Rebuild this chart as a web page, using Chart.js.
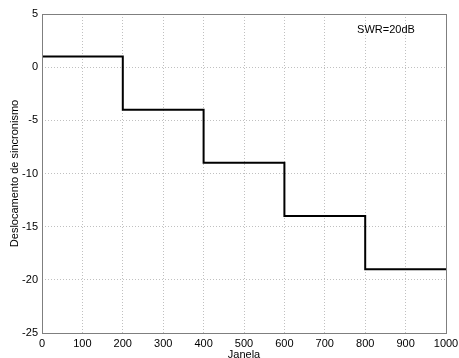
<!DOCTYPE html>
<html>
<head>
<meta charset="utf-8">
<script src="https://cdn.jsdelivr.net/npm/chart.js@4"></script>
<style>
  html, body { margin: 0; padding: 0; background: #fff; }
  #wrap { width: 459px; height: 358px; }
</style>
</head>
<body>
<div id="wrap"><canvas id="sync"></canvas></div>
<script>
const windows = [0, 200, 400, 600, 800, 1000]
const offsets = [1, -4, -9, -14, -19, -19]
const xTicks = [0, 100, 200, 300, 400, 500, 600, 700, 800, 900, 1000]
const yTicks = [5, 0, -5, -10, -15, -20, -25]
const noteText = "SWR=20dB"
const notePos = [780, 3.5]

const font = { family: "'Liberation Sans', Arial, sans-serif", size: 11 }

// box around the plot + the SWR note
const boxPlugin = {
  id: "box",
  afterDraw(chart) {
    const ctx = chart.ctx
    const a = chart.chartArea
    ctx.save()
    ctx.strokeStyle = "#7f7f7f"
    ctx.lineWidth = 1
    ctx.strokeRect(Math.round(a.left) + 0.5, Math.round(a.top) + 0.5,
      Math.round(a.right - a.left), Math.round(a.bottom - a.top))
    ctx.fillStyle = "#000"
    ctx.font = `${font.size}px ${font.family}`
    ctx.textAlign = "left"
    ctx.textBaseline = "middle"
    ctx.fillText(noteText, chart.scales.x.getPixelForValue(notePos[0]),
      chart.scales.y.getPixelForValue(notePos[1]))
    ctx.restore()
  }
}

function createChart() {
  let ctx = document.getElementById("sync")
  return new Chart(ctx, {
    type: "line",
    data: {
      datasets: [{
        data: windows.map((w, i) => ({ x: w, y: offsets[i] })),
        borderColor: "#000",
        borderWidth: 2,
        pointRadius: 0,
        stepped: true,
        fill: false
      }]
    },
    options: {
      responsive: true,
      maintainAspectRatio: false,
      animation: false,
      layout: { padding: { top: 14, right: 13, left: 0, bottom: 0 } },
      plugins: {
        legend: { display: false },
        tooltip: { enabled: false }
      },
      scales: {
        x: {
          type: "linear",
          min: 0,
          max: 1000,
          afterFit(scale) {
            scale.height = 25
            scale.paddingLeft = 0
            scale.paddingRight = 0
          },
          afterBuildTicks(scale) { scale.ticks = xTicks.map(v => ({ value: v })) },
          ticks: { font: font, color: "#000", padding: 4, maxRotation: 0, callback: v => String(v) },
          grid: { color: "#c0c0c0", drawTicks: false },
          border: { display: false, dash: [1, 2] },
          title: { display: true, text: "Janela", font: { ...font, lineHeight: 0.6 }, color: "#000", padding: { top: 0, bottom: 0 } }
        },
        y: {
          min: -25,
          max: 5,
          afterFit(scale) { scale.width = 42 },
          afterBuildTicks(scale) { scale.ticks = yTicks.map(v => ({ value: v })) },
          ticks: { font: font, color: "#000", padding: 4 },
          grid: { color: "#c0c0c0", drawTicks: false },
          border: { display: false, dash: [1, 2] },
          title: { display: true, text: "Deslocamento de sincronismo", font: font, color: "#000", padding: { top: 8, bottom: 0 } }
        }
      }
    },
    plugins: [boxPlugin]
  })
}

let chart = createChart()
</script>
</body>
</html>
